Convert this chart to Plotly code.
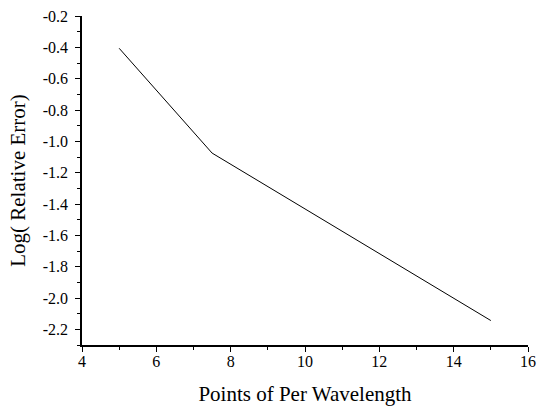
import plotly.graph_objects as go

points_per_wavelength = [5, 7.5, 15]
log_rel_error = [-0.406, -1.075, -2.144]

x_tickvals = [4, 6, 8, 10, 12, 14, 16]
x_ticktext = ["4", "6", "8", "10", "12", "14", "16"]
y_tickvals = [-0.2, -0.4, -0.6, -0.8, -1.0, -1.2, -1.4, -1.6, -1.8, -2.0, -2.2]
y_ticktext = ["-0.2", "-0.4", "-0.6", "-0.8", "-1.0", "-1.2", "-1.4", "-1.6", "-1.8", "-2.0", "-2.2"]

font = "Liberation Serif"

fig = go.Figure(go.Scatter(x=points_per_wavelength, y=log_rel_error, mode="lines",
                           line=dict(color="black", width=1)))

fig.update_layout(
    width=537, height=408,
    margin=dict(l=82, r=9, t=16, b=63),
    paper_bgcolor="white", plot_bgcolor="white",
    showlegend=False,
    font=dict(family=font, size=16, color="black"),
)
fig.update_xaxes(
    range=[4, 16], tickvals=x_tickvals, ticktext=x_ticktext,
    showline=True, linecolor="black", linewidth=1.5,
    ticks="outside", ticklen=5, tickwidth=1.2, tickcolor="black",
    minor=dict(dtick=1, ticks="outside", ticklen=3, tickwidth=1.2, tickcolor="black", showgrid=False),
    showgrid=False, zeroline=False, automargin=False, ticklabeloverflow="allow",
    ticklabelstandoff=-4,
    tickfont=dict(family=font, size=16),
    title=dict(text="Points of Per Wavelength", font=dict(family=font, size=21), standoff=17),
)
fig.update_yaxes(
    range=[-2.3, -0.2], tickvals=y_tickvals, ticktext=y_ticktext,
    showline=True, linecolor="black", linewidth=1.5,
    ticks="outside", ticklen=5, tickwidth=1.2, tickcolor="black",
    minor=dict(dtick=0.1, tick0=-0.2, ticks="outside", ticklen=3, tickwidth=1.2, tickcolor="black", showgrid=False),
    showgrid=False, zeroline=False, automargin=False, ticklabeloverflow="allow",
    ticklabelstandoff=4,
    tickfont=dict(family=font, size=16),
    title=dict(text="Log( Relative Error)", font=dict(family=font, size=21), standoff=11),
)

fig.write_html("out.html", config={"displayModeBar": False},
               post_script="document.body.style.margin='0';")
